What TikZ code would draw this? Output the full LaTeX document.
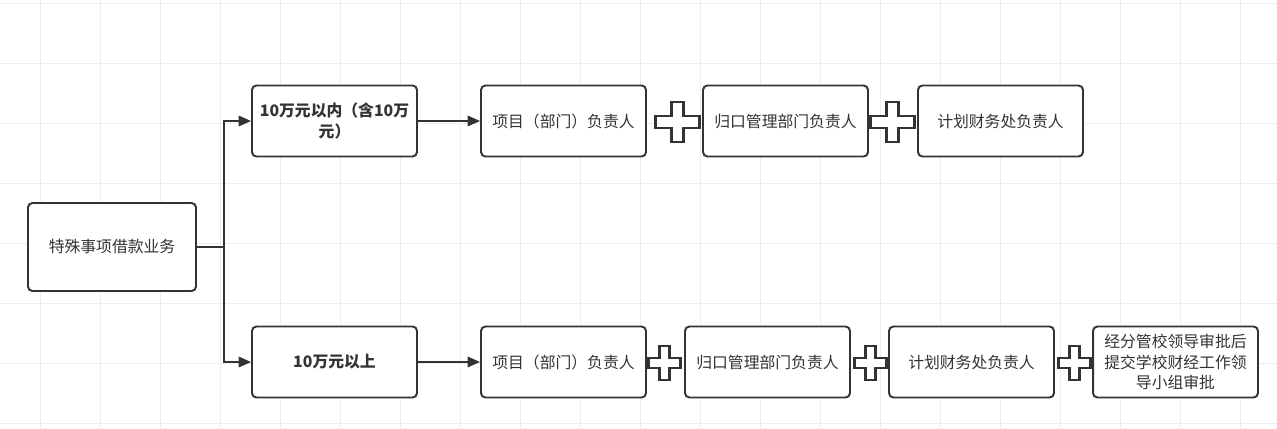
\documentclass[tikz,border=0pt]{standalone}
\usepackage{fontspec}
\setmainfont{Noto Sans CJK SC}
\usepackage{tikz}
\usetikzlibrary{arrows.meta,positioning}
\definecolor{inkc}{HTML}{333333}
\definecolor{gridc}{HTML}{EDEDED}

\begin{document}
\begin{tikzpicture}[x=0.02cm,y=-0.02cm,
  font=\fontsize{9}{11.5}\selectfont,
  box/.style={draw=inkc,line width=1.1pt,rounded corners=2.5pt,align=center,fill=white,text=inkc,
    minimum width=3.3cm,minimum height=1.42cm,inner sep=2pt},
  cond/.style={box,font=\fontsize{9}{11.5}\selectfont\bfseries},
  arr/.style={-{Triangle[length=2.5mm,width=2.1mm]},draw=inkc,line width=1.1pt},
  crs/.style={draw=inkc,line width=1.2pt,fill=white,line join=miter},
  gridln/.style={draw=gridc,line width=0.5pt},
  bigplus/.pic={\draw[crs] (-22,-6)--(-6,-6)--(-6,-20)--(6,-20)--(6,-6)--(22,-6)--(22,6)--(6,6)--(6,20)--(-6,20)--(-6,6)--(-22,6)--cycle;},
  smallplus/.pic={\draw[crs] (-16,-5)--(-5,-5)--(-5,-17)--(5,-17)--(5,-5)--(16,-5)--(16,5)--(5,5)--(5,17)--(-5,17)--(-5,5)--(-16,5)--cycle;}]
\useasboundingbox (0,0) rectangle (1277,429);
\fill[white] (0,0) rectangle (1277,429);
% ---------- background grid ----------
\foreach \gx in {40,100,...,1270} \draw[gridln] (\gx,0) -- (\gx,429);
\foreach \gy in {3,63,...,423} \draw[gridln] (0,\gy) -- (1277,\gy);
% ---------- start and the two amount bands ----------
\node[box,minimum width=3.36cm,minimum height=1.76cm] (biz) at (112,247) {特殊事项借款业务};
\node[cond] (lo) at (334.5,121) {10万元以内（含10万\\元）};
\node[cond] (hi) at (334.5,362) {10万元以上};
\coordinate (split) at (224,247);
\draw[draw=inkc,line width=1.1pt] (biz.east) -- (split);
\draw[arr] (split) |- (lo.west);
\draw[arr] (split) |- (hi.west);
% ---------- row 1: up to 100k ----------
\node[box] (loproj) at (563.5,121) {项目（部门）负责人};
\node[box] (lodept) at (785.5,121) {归口管理部门负责人};
\node[box] (lofin) at (1000.5,121) {计划财务处负责人};
\draw[arr] (lo) -- (loproj);
\pic at (677.5,122) {bigplus};
\pic at (892.5,122) {bigplus};
% ---------- row 2: above 100k ----------
\node[box] (hiproj) at (563.5,362) {项目（部门）负责人};
\node[box] (hidept) at (767.5,362) {归口管理部门负责人};
\node[box] (hifin) at (971.5,362) {计划财务处负责人};
\node[box] (hilead) at (1175.5,362) {经分管校领导审批后\\提交学校财经工作领\\导小组审批};
\draw[arr] (hi) -- (hiproj);
\pic at (664.5,363) {smallplus};
\pic at (870.5,363) {smallplus};
\pic at (1074.5,363) {smallplus};
\end{tikzpicture}
\end{document}
